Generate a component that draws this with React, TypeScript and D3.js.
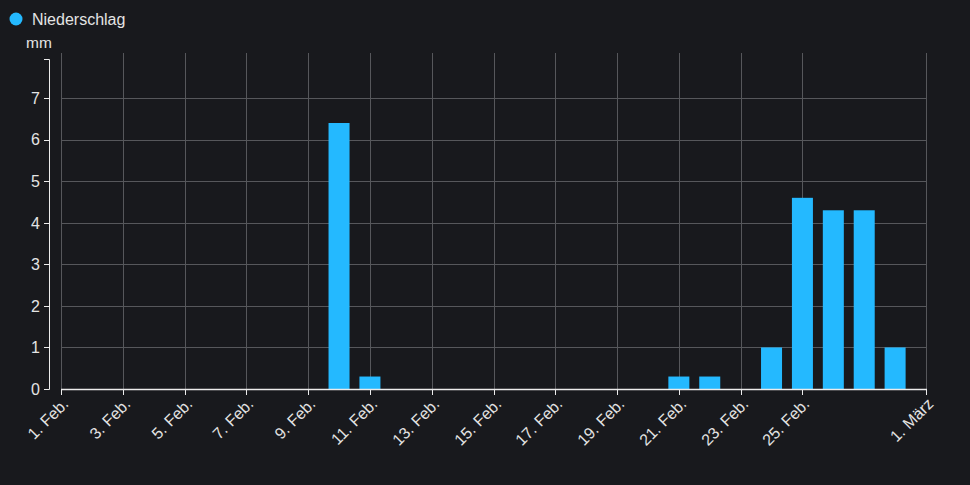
import React from "react";
import * as d3 from "d3";

const seriesName = "Niederschlag";
const unitLabel = "mm";
const days = [
  "2025-02-01","2025-02-02","2025-02-03","2025-02-04","2025-02-05","2025-02-06","2025-02-07",
  "2025-02-08","2025-02-09","2025-02-10","2025-02-11","2025-02-12","2025-02-13","2025-02-14",
  "2025-02-15","2025-02-16","2025-02-17","2025-02-18","2025-02-19","2025-02-20","2025-02-21",
  "2025-02-22","2025-02-23","2025-02-24","2025-02-25","2025-02-26","2025-02-27","2025-02-28",
];
const values = [
  0,0,0,0,0,0,0,
  0,0,6.4,0.3,0,0,0,
  0,0,0,0,0,0,0.3,
  0.3,0,1,4.6,4.3,4.3,1,
];
const xTickDates = [
  "2025-02-01","2025-02-03","2025-02-05","2025-02-07","2025-02-09","2025-02-11","2025-02-13",
  "2025-02-15","2025-02-17","2025-02-19","2025-02-21","2025-02-23","2025-02-25","2025-03-01",
];
const xTickLabels = [
  "1. Feb.","3. Feb.","5. Feb.","7. Feb.","9. Feb.","11. Feb.","13. Feb.",
  "15. Feb.","17. Feb.","19. Feb.","21. Feb.","23. Feb.","25. Feb.","1. März",
];
const yTicks = [0, 1, 2, 3, 4, 5, 6, 7];
const yMax = 7.94;
const xStart = "2025-02-01";
const xEnd = "2025-03-01";

const W = 970, H = 485;
const plotLeft = 61, plotRight = 926, plotTop = 59, plotBottom = 389;
const yAxisX = 49;
const bg = "#18191d";
const barColor = "#24b9ff";
const gridColor = "#56575b";
const axisColor = "#ececec";
const textColor = "#e4e4e4";
const font = "'Liberation Sans', Arial, sans-serif";

const parse = d3.utcParse("%Y-%m-%d");

export default function App() {
  const x = d3.scaleUtc().domain([parse(xStart)!, parse(xEnd)!]).range([plotLeft, plotRight]);
  const y = d3.scaleLinear().domain([0, yMax]).range([plotBottom, plotTop]);
  const dayW = x(parse("2025-02-02")!) - x(parse("2025-02-01")!);
  const barW = dayW * 0.68;

  return (
    <svg width={W} height={H} style={{ display: "block", position: "absolute", left: 0, top: 0, background: bg }} fontFamily={font}>
      <rect x={0} y={0} width={W} height={H} fill={bg} />
      {/* legend */}
      <circle cx={16} cy={19} r={6.5} fill={barColor} />
      <text x={32} y={25} fontSize={16} fill={textColor}>{seriesName}</text>
      <text x={26} y={48} fontSize={15.5} fill={textColor}>{unitLabel}</text>

      {/* grid */}
      {yTicks.filter(t => t > 0).map(t => (
        <line key={"gy" + t} x1={plotLeft} x2={plotRight} y1={Math.round(y(t)) + 0.5} y2={Math.round(y(t)) + 0.5} stroke={gridColor} strokeWidth={1} />
      ))}
      {xTickDates.map(d => {
        const xx = Math.round(x(parse(d)!)) + 0.5;
        return <line key={"gx" + d} x1={xx} x2={xx} y1={53} y2={plotBottom} stroke={gridColor} strokeWidth={1} />;
      })}

      {/* bars */}
      {days.map((d, i) => {
        const cx = x(parse(d)!);
        const v = values[i];
        if (v <= 0) return null;
        return <rect key={d} x={cx - barW / 2} y={y(v)} width={barW} height={plotBottom - y(v)} fill={barColor} />;
      })}

      {/* y axis */}
      <path d={`M${yAxisX - 5},${plotTop + 0.5}H${yAxisX + 0.5}V${plotBottom + 0.5}H${yAxisX - 5}`} fill="none" stroke={axisColor} strokeWidth={1} />
      {yTicks.map(t => (
        <g key={"yt" + t}>
          <line x1={yAxisX - 5} x2={yAxisX} y1={Math.round(y(t)) + 0.5} y2={Math.round(y(t)) + 0.5} stroke={axisColor} />
          <text x={yAxisX - 9} y={y(t)} dy="0.36em" textAnchor="end" fontSize={16} fill={textColor}>{t}</text>
        </g>
      ))}

      {/* x axis */}
      <line x1={plotLeft} x2={plotRight + 1} y1={plotBottom + 0.5} y2={plotBottom + 0.5} stroke={axisColor} strokeWidth={1.5} />
      {xTickDates.map((d, i) => {
        const xx = Math.round(x(parse(d)!)) + 0.5;
        return (
          <g key={"xt" + d}>
            <line x1={xx} x2={xx} y1={plotBottom} y2={plotBottom + 6} stroke={axisColor} />
            <text transform={`translate(${xx + 4},${plotBottom + 12}) rotate(-45)`} textAnchor="end" fontSize={16} fill={textColor} dy="0.35em">{xTickLabels[i]}</text>
          </g>
        );
      })}
    </svg>
  );
}
